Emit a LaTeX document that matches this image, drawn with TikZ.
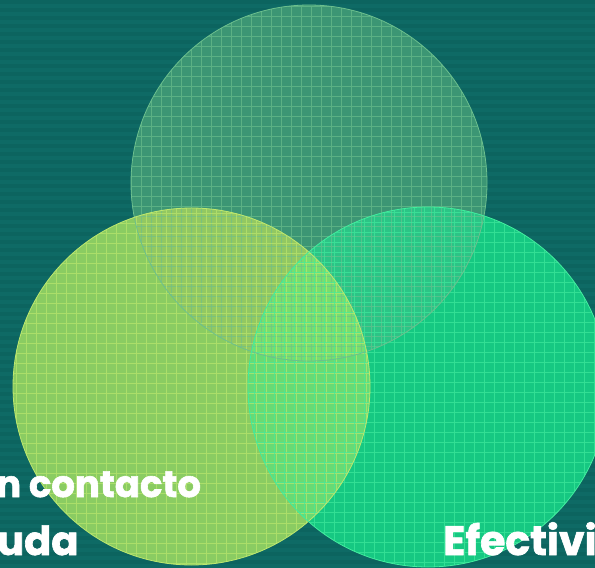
\documentclass[tikz,border=0pt]{standalone}
\usepackage{fontspec}
\newfontfamily\headfont{Poppins}[BoldFeatures={FakeBold=1.6}]

% background and circle colours
\definecolor{bgteal}{HTML}{0E6A65}
\definecolor{bgstripe}{HTML}{0C645F}
\definecolor{topfill}{HTML}{3C9674}
\definecolor{leftfill}{HTML}{8ACC62}
\definecolor{rightfill}{HTML}{16C882}
\definecolor{topleft}{HTML}{92C862}
\definecolor{topright}{HTML}{2CC486}
\definecolor{leftright}{HTML}{68DA74}
\definecolor{allthree}{HTML}{78DE6E}
\definecolor{topline}{HTML}{6CC08E}
\definecolor{leftline}{HTML}{BEE86E}
\definecolor{rightline}{HTML}{42EC9E}

\begin{document}
\begin{tikzpicture}[x=1pt,y=-1pt,
    gridlines/.style={step=10pt, line width=0.9pt, opacity=0.65},
    rim/.style={line width=0.8pt},
    caption/.style={text=white, anchor=base west, inner sep=0pt}]
  \useasboundingbox (0,0) rectangle (595,568);
  \clip (0,0) rectangle (595,568);

  % striped backdrop
  \fill[bgteal] (0,0) rectangle (595,568);
  \foreach \y in {0,8,...,568}
    \fill[bgstripe] (0,\y) rectangle (595,\y+4);

  \coordinate (top) at (309,183);
  \coordinate (left) at (191.5,386.5);
  \coordinate (right) at (428,387);
  \def\toppath{(top) circle[radius=178pt]}
  \def\leftpath{(left) circle[radius=178.5pt]}
  \def\rightpath{(right) circle[radius=180pt]}

  % plain discs
  \fill[topfill] \toppath;
  \fill[leftfill] \leftpath;
  \fill[rightfill] \rightpath;

  % overlaps
  \begin{scope}
    \clip \leftpath;
    \fill[topleft] \toppath;
    \fill[leftright] \rightpath;
    \clip \rightpath;
    \fill[allthree] \toppath;
  \end{scope}
  \begin{scope}
    \clip \rightpath;
    \fill[topright] \toppath;
    \clip \leftpath;
    \fill[allthree] \toppath;
  \end{scope}

  % grid inside each disc
  \begin{scope}
    \clip \toppath;
    \draw[gridlines, topline, shift={(1.7,6.5)}] (120,0) grid (500,370);
  \end{scope}
  \begin{scope}
    \clip \leftpath;
    \draw[gridlines, leftline, shift={(6.7,3.3)}] (0,200) grid (380,570);
  \end{scope}
  \begin{scope}
    \clip \rightpath;
    \draw[gridlines, rightline, shift={(4,2.7)}] (240,200) grid (610,570);
  \end{scope}

  \draw[rim, topline] \toppath;
  \draw[rim, leftline] \leftpath;
  \draw[rim, rightline] \rightpath;

  % captions running off the edge
  \node[caption, font=\headfont\bfseries\fontsize{37}{40}\selectfont] (contacto) at (-4,497) {n contacto};
  \node[caption, font=\headfont\bfseries\fontsize{40}{44}\selectfont] (ayuda) at (-3,555) {uda};
  \node[caption, font=\headfont\bfseries\fontsize{41}{46}\selectfont] (efect) at (443,555) {Efectivi};
\end{tikzpicture}
\end{document}
